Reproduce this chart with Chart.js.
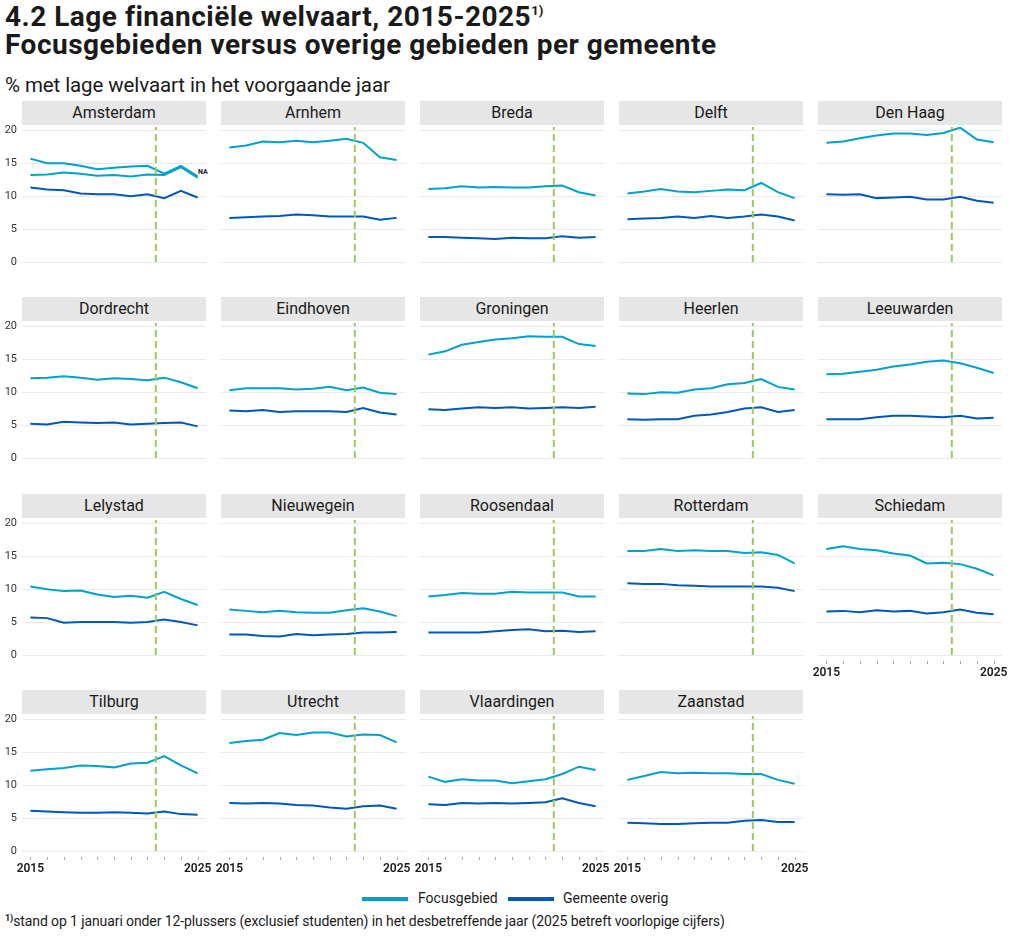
<!DOCTYPE html>
<html>
<head>
<meta charset="utf-8">
<script src="https://cdn.jsdelivr.net/npm/chart.js@4.4.1/dist/chart.umd.min.js"></script>
<style>
  body { margin: 0; width: 1009px; height: 936px; background: #fff; position: relative; overflow: hidden;
         font-family: Roboto, "Noto Sans", sans-serif; color: #1a1a1a; }
  .title { position: absolute; left: 5px; top: 3px; font-weight: 700; font-size: 28px; line-height: 28px; letter-spacing: 0.5px; }
  .title sup { font-size: 13px; vertical-align: 11px; line-height: 0; letter-spacing: 0; }
  .sub { position: absolute; left: 5px; top: 73px; font-size: 20.5px; letter-spacing: -0.1px; }
  .hdr { position: absolute; height: 24px; width: 184px; background: #e6e6e6; text-align: center;
         font-size: 16px; line-height: 24px; color: #1a1a1a; }
  canvas { position: absolute; }
  .legend { position: absolute; top: 890px; font-size: 14px; }
  .sw { position: absolute; width: 46px; height: 4px; }
  .foot { position: absolute; left: 5px; top: 913px; font-size: 14px; letter-spacing: -0.1px; }
  .foot sup { font-size: 9px; font-weight: 700; vertical-align: 5px; line-height: 0; }
  .tiny { position: absolute; left: 198px; top: 168px; font-size: 7px; font-weight: 700; }
</style>
</head>
<body>
<div class="title">4.2 Lage financiële welvaart, 2015-2025<sup>1)</sup><br>Focusgebieden versus overige gebieden per gemeente</div>
<div class="sub">% met lage welvaart in het voorgaande jaar</div>
<div class="tiny">NA</div>
<div class="sw" style="left:362px;top:897px;background:#00a1cd"></div>
<div class="legend" style="left:418px">Focusgebied</div>
<div class="sw" style="left:508px;top:897px;background:#0058b8"></div>
<div class="legend" style="left:563px">Gemeente overig</div>
<div class="foot"><sup>1)</sup>stand op 1 januari onder 12-plussers (exclusief studenten) in het desbetreffende jaar (2025 betreft voorlopige cijfers)</div>

<script>
// values, one row per gemeente, years 2015..2025
const years = [2015, 2016, 2017, 2018, 2019, 2020, 2021, 2022, 2023, 2024, 2025];
const xLabels = [2015, 2025];
const yTicks = [0, 5, 10, 15, 20];
const markerYear = 2022.5;

const gemeenten = ['Amsterdam', 'Arnhem', 'Breda', 'Delft', 'Den Haag',
                   'Dordrecht', 'Eindhoven', 'Groningen', 'Heerlen', 'Leeuwarden',
                   'Lelystad', 'Nieuwegein', 'Roosendaal', 'Rotterdam', 'Schiedam',
                   'Tilburg', 'Utrecht', 'Vlaardingen', 'Zaanstad'];

const focusgebied = [
  [15.7, 15.0, 15.0, 14.6, 14.1, 14.3, 14.5, 14.6, 13.4, 14.6, 13.0],
  [17.4, 17.7, 18.3, 18.2, 18.4, 18.2, 18.4, 18.7, 18.1, 15.9, 15.5],
  [11.1, 11.2, 11.5, 11.3, 11.4, 11.3, 11.3, 11.5, 11.6, 10.6, 10.1],
  [10.4, 10.7, 11.1, 10.7, 10.6, 10.8, 11.0, 10.9, 12.0, 10.6, 9.7],
  [18.1, 18.3, 18.8, 19.2, 19.5, 19.5, 19.3, 19.6, 20.4, 18.6, 18.2],
  [12.1, 12.2, 12.4, 12.2, 11.9, 12.1, 12.0, 11.8, 12.2, 11.5, 10.6],
  [10.3, 10.6, 10.6, 10.6, 10.4, 10.5, 10.8, 10.3, 10.7, 9.9, 9.7],
  [15.7, 16.2, 17.2, 17.6, 18.0, 18.2, 18.5, 18.4, 18.4, 17.3, 17.0],
  [9.8, 9.7, 10.0, 9.9, 10.4, 10.6, 11.2, 11.4, 12.0, 10.8, 10.4],
  [12.7, 12.8, 13.1, 13.4, 13.9, 14.2, 14.6, 14.8, 14.4, 13.7, 12.9],
  [10.4, 10.0, 9.7, 9.8, 9.2, 8.8, 9.0, 8.7, 9.6, 8.5, 7.6],
  [6.9, 6.7, 6.5, 6.7, 6.5, 6.4, 6.4, 6.8, 7.1, 6.6, 5.9],
  [8.9, 9.1, 9.4, 9.3, 9.3, 9.6, 9.5, 9.5, 9.5, 8.9, 8.9],
  [15.8, 15.8, 16.1, 15.8, 15.9, 15.8, 15.8, 15.5, 15.6, 15.2, 13.9],
  [16.1, 16.5, 16.1, 15.9, 15.4, 15.1, 13.9, 14.0, 13.8, 13.1, 12.1],
  [12.2, 12.4, 12.6, 13.0, 12.9, 12.7, 13.3, 13.4, 14.4, 13.0, 11.8],
  [16.4, 16.7, 16.9, 17.9, 17.6, 18.0, 18.0, 17.4, 17.7, 17.6, 16.5],
  [11.3, 10.5, 10.9, 10.7, 10.7, 10.3, 10.6, 10.9, 11.7, 12.8, 12.3],
  [10.8, 11.4, 12.0, 11.8, 11.9, 11.8, 11.8, 11.7, 11.7, 10.8, 10.2]
];

// Amsterdam has a second focus area
const amsterdamFocus2 = [13.2, 13.3, 13.6, 13.4, 13.1, 13.2, 13.0, 13.3, 13.2, 14.4, 12.8];

const gemeenteOverig = [
  [11.3, 11.0, 10.9, 10.4, 10.3, 10.3, 10.0, 10.3, 9.7, 10.8, 9.8],
  [6.7, 6.8, 6.9, 7.0, 7.2, 7.1, 6.9, 6.9, 6.9, 6.4, 6.7],
  [3.8, 3.8, 3.7, 3.6, 3.5, 3.7, 3.6, 3.6, 3.9, 3.7, 3.8],
  [6.5, 6.6, 6.7, 6.9, 6.7, 7.0, 6.7, 6.9, 7.2, 6.9, 6.3],
  [10.3, 10.2, 10.3, 9.7, 9.8, 9.9, 9.5, 9.5, 9.9, 9.3, 9.0],
  [5.2, 5.1, 5.5, 5.4, 5.3, 5.4, 5.1, 5.2, 5.3, 5.4, 4.8],
  [7.2, 7.1, 7.3, 7.0, 7.1, 7.1, 7.1, 7.0, 7.6, 6.9, 6.6],
  [7.4, 7.3, 7.5, 7.7, 7.6, 7.7, 7.5, 7.6, 7.7, 7.6, 7.8],
  [5.9, 5.8, 5.9, 5.9, 6.4, 6.6, 7.0, 7.5, 7.7, 7.0, 7.3],
  [5.9, 5.9, 5.9, 6.2, 6.4, 6.4, 6.3, 6.2, 6.4, 6.0, 6.1],
  [5.7, 5.6, 4.9, 5.0, 5.0, 5.0, 4.9, 5.0, 5.4, 5.0, 4.5],
  [3.1, 3.1, 2.9, 2.8, 3.2, 3.0, 3.1, 3.2, 3.4, 3.4, 3.5],
  [3.4, 3.4, 3.4, 3.4, 3.6, 3.8, 3.9, 3.6, 3.7, 3.5, 3.6],
  [10.9, 10.8, 10.8, 10.6, 10.5, 10.4, 10.4, 10.4, 10.4, 10.2, 9.7],
  [6.6, 6.7, 6.5, 6.8, 6.6, 6.7, 6.3, 6.5, 6.9, 6.4, 6.2],
  [6.1, 6.0, 5.9, 5.8, 5.8, 5.9, 5.8, 5.7, 6.0, 5.6, 5.5],
  [7.3, 7.2, 7.3, 7.2, 7.0, 6.9, 6.6, 6.4, 6.8, 6.9, 6.4],
  [7.1, 7.0, 7.3, 7.2, 7.3, 7.2, 7.3, 7.4, 8.0, 7.3, 6.8],
  [4.3, 4.2, 4.1, 4.1, 4.2, 4.3, 4.3, 4.6, 4.7, 4.4, 4.4]
];

// panels that carry the year labels (nothing below them)
const labeledPanels = ['Schiedam', 'Tilburg', 'Utrecht', 'Vlaardingen', 'Zaanstad'];

const FOCUS = '#00a1cd';
const OVERIG = '#0058b8';
const GREEN = '#9cc95a';
const Y_MAX = 20.5;

const colLeft = [22, 221, 420, 619, 818];
const rowTop = [101, 297, 494, 690];
const PW = 184;         // plot width
const PH = 135;         // plot height (0..20.5)
const AXIS_H = 28;      // room for the year labels

// small tick marks under the x axis, a little below the axis line
const yearTicks = {
  id: 'yearTicks',
  afterDraw(chart) {
    if (!chart.options.plugins.yearTicks.show) return;
    const { ctx, chartArea, scales } = chart;
    ctx.save();
    ctx.strokeStyle = '#aaaaaa';
    ctx.lineWidth = 1;
    years.forEach(y => {
      const px = Math.round(scales.x.getPixelForValue(y)) + 0.5;
      ctx.beginPath();
      ctx.moveTo(px, chartArea.bottom + 6);
      ctx.lineTo(px, chartArea.bottom + 9);
      ctx.stroke();
    });
    ctx.restore();
  }
};

function line(data, color, order) {
  return {
    data: years.map((y, k) => ({ x: y, y: data[k] })),
    borderColor: color, borderWidth: 2, pointRadius: 0, tension: 0, order: order
  };
}

gemeenten.forEach((name, i) => {
  const r = Math.floor(i / 5), c = i % 5;
  const left = colLeft[c], top = rowTop[r];
  const labeled = labeledPanels.includes(name);

  const hdr = document.createElement('div');
  hdr.className = 'hdr';
  hdr.style.left = left + 'px';
  hdr.style.top = top + 'px';
  hdr.textContent = name;
  document.body.appendChild(hdr);

  const cl = c === 0 ? 0 : left - 8;
  const cw = left + PW + 8 - cl;
  const ct = top + 26 - 8;
  const ch = 8 + PH + (labeled ? AXIS_H : 10);
  const canvas = document.createElement('canvas');
  canvas.width = cw; canvas.height = ch;
  canvas.style.left = cl + 'px'; canvas.style.top = ct + 'px';
  canvas.style.width = cw + 'px'; canvas.style.height = ch + 'px';
  document.body.appendChild(canvas);

  const datasets = [
    { data: [{ x: markerYear, y: 0 }, { x: markerYear, y: Y_MAX }],
      borderColor: GREEN, borderWidth: 2, borderDash: [7, 4], pointRadius: 0, order: 0, clip: false },
    line(focusgebied[i], FOCUS, 2),
    line(gemeenteOverig[i], OVERIG, 3)
  ];
  if (name === 'Amsterdam') datasets.push(line(amsterdamFocus2, FOCUS, 1));

  new Chart(canvas, {
    type: 'line',
    data: { datasets },
    plugins: [yearTicks],
    options: {
      responsive: false,
      animation: false,
      events: [],
      layout: { padding: { top: 8, left: c === 0 ? 0 : 8, right: 8, bottom: labeled ? 0 : 10 } },
      plugins: { legend: { display: false }, tooltip: { enabled: false }, yearTicks: { show: labeled } },
      scales: {
        x: {
          type: 'linear', min: 2014.5, max: 2025.5,
          afterBuildTicks: s => { s.ticks = years.map(v => ({ value: v })); },
          afterFit: s => { s.height = labeled ? AXIS_H : 0; s.paddingLeft = 0; s.paddingRight = 0; },
          grid: { display: false, drawTicks: false },
          border: { display: false },
          ticks: {
            display: labeled, autoSkip: false, maxRotation: 0, padding: 11,
            color: '#1a1a1a', font: { family: 'Roboto', size: 12, weight: '600' },
            callback: v => xLabels.includes(v) ? String(v) : ''
          }
        },
        y: {
          min: 0, max: Y_MAX,
          afterBuildTicks: s => { s.ticks = yTicks.map(v => ({ value: v })); },
          afterFit: s => { s.width = c === 0 ? 22 : 0; s.paddingTop = 0; s.paddingBottom = 0; },
          grid: { color: '#e9e9e9', lineWidth: 1, drawTicks: false },
          border: { display: false },
          ticks: { display: c === 0, padding: 5, color: '#333', font: { family: 'Roboto', size: 11 } }
        }
      }
    }
  });
});
</script>
</body>
</html>
